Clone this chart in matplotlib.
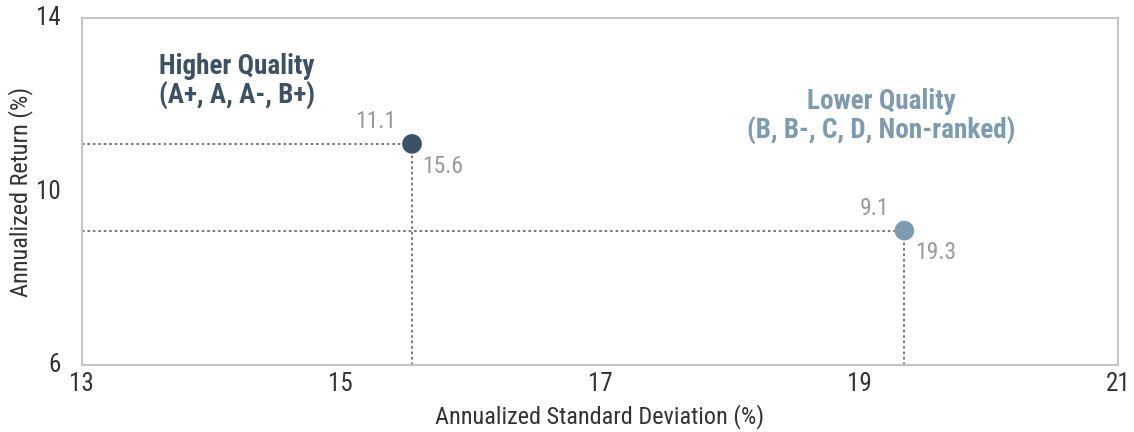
import matplotlib.pyplot as plt
from matplotlib import font_manager

# pick a narrow font if one is around
names = {f.name for f in font_manager.fontManager.ttflist}
fam = "DejaVu Sans"
for cand in ["Roboto Condensed", "Liberation Sans Narrow", "DejaVu Sans Condensed"]:
    if cand in names:
        fam = cand
        break
plt.rcParams["font.family"] = [fam, "DejaVu Sans"]

# data
groups = ["Higher Quality\n(A+, A, A-, B+)", "Lower Quality\n(B, B-, C, D, Non-ranked)"]
std_dev = [15.55, 19.35]
ret = [11.1, 9.1]
std_labels = ["15.6", "19.3"]
ret_labels = ["11.1", "9.1"]
colors = ["#3b5266", "#7a9bb1"]
title_pos = [(14.2, 12.54), (19.17, 11.73)]

xticks = [13, 15, 17, 19, 21]
yticks = [6, 10, 14]

fig, ax = plt.subplots(figsize=(11.34, 4.32), dpi=100)
fig.subplots_adjust(left=0.072, right=0.986, top=0.958, bottom=0.155)

for i in range(len(groups)):
    ax.plot([13, std_dev[i]], [ret[i], ret[i]], ls=(0, (1.3, 1.5)), color="#777777", lw=1.4, zorder=1)
    ax.plot([std_dev[i], std_dev[i]], [6, ret[i]], ls=(0, (1.3, 1.5)), color="#777777", lw=1.4, zorder=1)
    ax.scatter(std_dev[i], ret[i], s=200, color=colors[i], zorder=3, edgecolors="none")
    ax.text(std_dev[i] - 0.12, ret[i] + 0.25, ret_labels[i], ha="right", va="bottom",
            fontsize=17, color="#9a9a9a")
    ax.text(std_dev[i] + 0.08, ret[i] - 0.25, std_labels[i], ha="left", va="top",
            fontsize=17, color="#9a9a9a")
    ax.text(title_pos[i][0], title_pos[i][1], groups[i], ha="center", va="center",
            fontsize=19.5, fontweight="bold", color=colors[i], linespacing=1.05)

ax.set_xlim(13, 21)
ax.set_ylim(6, 14)
ax.set_xticks(xticks)
ax.set_yticks(yticks)
ax.tick_params(axis="x", length=0, labelsize=18, labelcolor="#333333", pad=5)
ax.tick_params(axis="y", length=0, labelsize=18, labelcolor="#333333", pad=15)
for lab in ax.get_yticklabels():
    lab.set_verticalalignment("center")

for s in ax.spines.values():
    s.set_color("#c6c6c6")
    s.set_linewidth(1.5)

ax.set_xlabel("Annualized Standard Deviation (%)", fontsize=17.5, color="#333333", labelpad=6)
ax.set_ylabel("Annualized Return (%)", fontsize=17.5, color="#333333", labelpad=2)

plt.savefig("out.png", dpi=100)
